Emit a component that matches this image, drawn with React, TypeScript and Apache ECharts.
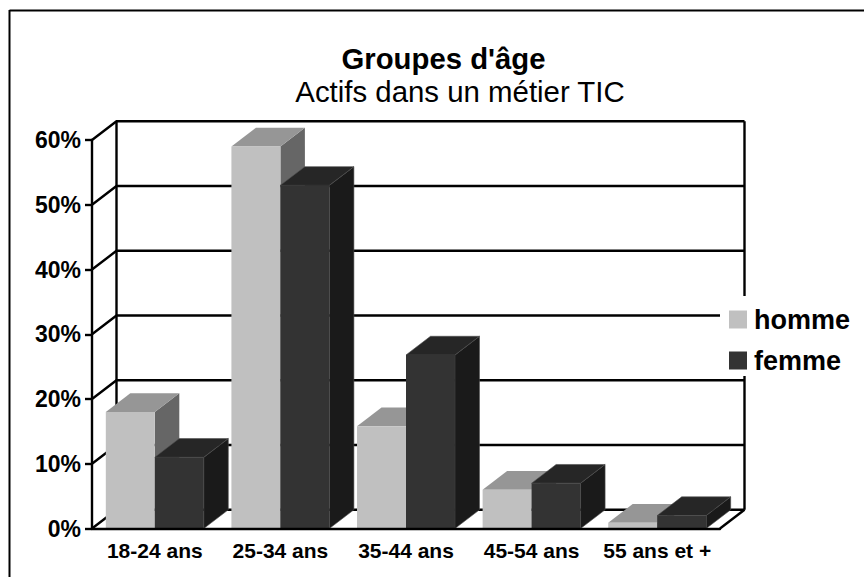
import React, { useEffect, useRef } from "react";
import * as echarts from "echarts";

const categories = ["18-24 ans", "25-34 ans", "35-44 ans", "45-54 ans", "55 ans et +"];
const homme = [18, 59, 15.8, 6, 0.9];
const femme = [11, 53, 26.8, 7, 2];
const gridValues = [0, 10, 20, 30, 40, 50, 60];

const FONT = "'Liberation Sans', Arial, sans-serif";
const DX = 24.5;
const DY = 18.7;
const BAR_RATIO = 0.39;

function wallItem(params: any, api: any) {
  const cs = params.coordSys;
  const v = api.value(0);
  const y = api.coord([0, v])[1];
  const left = cs.x;
  const right = cs.x + cs.width;
  const line = { stroke: "#000", lineWidth: 2.4, fill: "none" };
  const children: any[] = [
    { type: "polyline", shape: { points: [[left, y], [left + DX, y - DY], [right + DX, y - DY]] }, style: line },
  ];
  if (v === 0) {
    children.push({ type: "line", shape: { x1: right, y1: y, x2: right + DX, y2: y - DY }, style: line });
    const top = api.coord([0, gridValues[gridValues.length - 1]])[1] - DY;
    children.push({ type: "line", shape: { x1: left + DX, y1: y - DY, x2: left + DX, y2: top }, style: line });
    children.push({ type: "line", shape: { x1: right + DX, y1: y - DY, x2: right + DX, y2: top }, style: line });
  }
  return { type: "group", children };
}

function barItem(side: 0 | 1, front: string, topC: string, sideC: string, edge?: string) {
  return (_params: any, api: any) => {
    const i = api.value(0);
    const center = api.coord([i, 0])[0];
    const base = api.coord([i, 0])[1];
    const top = api.coord([i, api.value(1)])[1];
    const w = api.size([1, 0])[0] * BAR_RATIO;
    const x = side === 0 ? center - w : center;
    const edgeStyle = edge ? { stroke: edge, lineWidth: 0.6 } : {};
    return {
      type: "group",
      children: [
        {
          type: "polygon",
          shape: { points: [[x + w, base], [x + w + DX, base - DY], [x + w + DX, top - DY], [x + w, top]] },
          style: { fill: sideC, ...edgeStyle },
        },
        {
          type: "polygon",
          shape: { points: [[x, top], [x + DX, top - DY], [x + w + DX, top - DY], [x + w, top]] },
          style: { fill: topC, ...edgeStyle },
        },
        { type: "rect", shape: { x, y: top, width: w, height: base - top }, style: { fill: front } },
      ],
    };
  };
}

export default function App() {
  const ref = useRef<HTMLDivElement>(null);
  useEffect(() => {
    document.body.style.margin = "0";
    const chart = echarts.init(ref.current!, undefined, { renderer: "svg" });
    chart.setOption({
      animation: false,
      backgroundColor: "#fff",
      textStyle: { fontFamily: FONT },
      title: [
        {
          text: "Groupes d'âge",
          left: 438.5,
          top: 39,
          textAlign: "center",
          textStyle: { fontFamily: FONT, fontWeight: "bold", fontSize: 29.3, color: "#000" },
        },
        {
          text: "Actifs dans un métier TIC",
          left: 455,
          top: 72,
          textAlign: "center",
          textStyle: { fontFamily: FONT, fontWeight: "normal", fontSize: 29.4, color: "#000" },
        },
      ],
      legend: {
        data: ["homme", "femme"],
        orient: "vertical",
        left: 720,
        top: 296,
        padding: [10, 12, 2, 9],
        backgroundColor: "#fff",
        icon: "rect",
        itemWidth: 18,
        itemHeight: 18,
        itemGap: 14,
        textStyle: { fontFamily: FONT, fontWeight: "bold", fontSize: 27, color: "#000", padding: [0, 0, 2, 2] },
      },
      grid: { left: 92, top: 140, width: 628, height: 388.5, containLabel: false },
      xAxis: {
        type: "category",
        data: categories,
        z: 5,
        axisLine: { lineStyle: { color: "#000", width: 2.4 } },
        axisTick: { lineStyle: { color: "#000", width: 2.4 }, length: 8 },
        axisLabel: { color: "#000", fontFamily: FONT, fontWeight: "bold", fontSize: 21, margin: 11, interval: 0 },
      },
      yAxis: {
        type: "value",
        min: 0,
        max: 60,
        interval: 10,
        z: 5,
        splitLine: { show: false },
        axisLine: { show: true, lineStyle: { color: "#000", width: 2.4 } },
        axisTick: { show: true, lineStyle: { color: "#000", width: 2.4 }, length: 7 },
        axisLabel: { color: "#000", fontFamily: FONT, fontWeight: "bold", fontSize: 23, margin: 11, formatter: "{value}%" },
      },
      graphic: [
        { type: "line", shape: { x1: 9.5, y1: 10.5, x2: 864, y2: 10.5 }, style: { stroke: "#000", lineWidth: 2 } },
        { type: "line", shape: { x1: 9.5, y1: 10, x2: 9.5, y2: 577 }, style: { stroke: "#000", lineWidth: 2 } },
      ],
      series: [
        {
          type: "custom",
          name: "wall",
          z: 1,
          silent: true,
          renderItem: wallItem,
          data: gridValues.map((v) => [v]),
          encode: { y: 0 },
        },
        {
          type: "custom",
          name: "homme",
          z: 2,
          itemStyle: { color: "#c0c0c0" },
          renderItem: barItem(0, "#c0c0c0", "#969696", "#666666"),
          data: homme.map((v, i) => [i, v]),
          encode: { x: 0, y: 1 },
        },
        {
          type: "custom",
          name: "femme",
          z: 3,
          itemStyle: { color: "#333333" },
          renderItem: barItem(1, "#333333", "#262626", "#1a1a1a", "#4d4d4d"),
          data: femme.map((v, i) => [i, v]),
          encode: { x: 0, y: 1 },
        },
      ],
    });
    return () => chart.dispose();
  }, []);
  return <div ref={ref} style={{ width: 864, height: 577 }} />;
}
